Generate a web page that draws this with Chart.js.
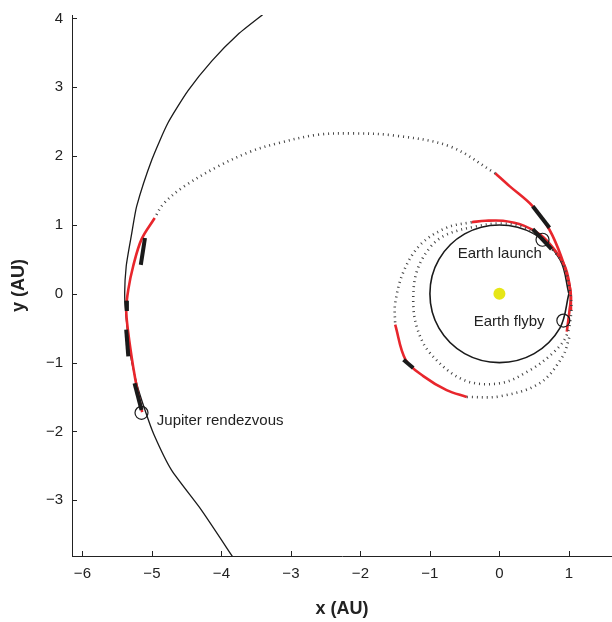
<!DOCTYPE html>
<html>
<head>
<meta charset="utf-8">
<script src="https://cdn.jsdelivr.net/npm/chart.js@4.4.0/dist/chart.umd.min.js"></script>
<style>
    html, body { margin: 0; padding: 0; background: #fff; overflow: hidden; }
    #wrap { width: 612px; height: 622px; position: relative; }
    canvas { display: block; }
</style>
</head>
<body>
<div id="wrap"><canvas id="orbitChart"></canvas></div>
<script>
// Axis ticks
const X_TICKS = [-6, -5, -4, -3, -2, -1, 0, 1];
const Y_TICKS = [-3, -2, -1, 0, 1, 2, 3, 4];

// Planet orbits (AU)
const EARTH_ORBIT = [
    [1, 0], [0.87, 0.5], [0.5, 0.87], [0, 1], [-0.5, 0.87], [-0.87, 0.5], [-1, 0],
    [-0.87, -0.5], [-0.5, -0.87], [0, -1], [0.5, -0.87], [0.87, -0.5], [1, 0]
];
const JUPITER_ORBIT = [
    [-3.30, 4.14], [-3.40, 4.06], [-3.76, 3.77], [-4.14, 3.38], [-4.48, 2.95], [-4.77, 2.48],
    [-5.00, 1.95], [-5.22, 1.27], [-5.29, 0.88], [-5.37, 0.40], [-5.39, -0.09], [-5.32, -0.82],
    [-5.22, -1.30], [-5.10, -1.69], [-4.97, -2.05], [-4.72, -2.56], [-4.29, -3.14], [-3.80, -3.88]
];

// Coast arcs (dotted)
const COAST_INNER = [
    [0.62, 0.79], [0.35, 0.97], [0.0, 1.02], [-0.33, 0.98], [-0.76, 0.86], [-1.0, 0.67],
    [-1.19, 0.32], [-1.24, -0.09], [-1.19, -0.48], [-1.0, -0.86], [-0.52, -1.25], [0.01, -1.30],
    [0.44, -1.11], [0.77, -0.86], [0.96, -0.62], [1.03, -0.30], [1.02, 0.0], [0.93, 0.40],
    [0.75, 0.66], [0.48, 0.93]
];
const COAST_LEFT = [
    [-0.40, 1.04], [-0.76, 0.96], [-1.14, 0.71], [-1.38, 0.32], [-1.50, -0.14], [-1.50, -0.45]
];
const COAST_BOTTOM = [
    [-0.47, -1.50], [0.01, -1.49], [0.58, -1.30], [0.91, -0.91], [1.01, -0.62]
];
const COAST_OUTER = [
    [-0.06, 1.75], [-0.71, 2.14], [-1.52, 2.30], [-2.14, 2.33], [-2.62, 2.31], [-3.18, 2.19],
    [-3.57, 2.07], [-4.05, 1.85], [-4.55, 1.55], [-4.84, 1.30], [-4.96, 1.10]
];

// Thrust arcs (red)
const THRUST_LAUNCH = [
    [1.03, -0.25], [1.02, 0.05], [0.95, 0.38], [0.80, 0.63], [0.60, 0.85], [0.35, 0.99],
    [0.05, 1.06], [-0.20, 1.06], [-0.40, 1.04]
];
const THRUST_LOOP = [
    [-1.50, -0.45], [-1.35, -0.96], [-1.09, -1.20], [-0.76, -1.40], [-0.47, -1.50]
];
const THRUST_FLYBY = [
    [0.97, -0.55], [1.01, -0.23], [1.03, -0.04], [0.99, 0.20], [0.89, 0.54], [0.72, 0.93],
    [0.48, 1.27], [0.15, 1.56], [-0.06, 1.75]
];
const THRUST_JUPITER = [
    [-4.96, 1.10], [-5.15, 0.79], [-5.27, 0.40], [-5.34, 0.06], [-5.37, -0.23], [-5.34, -0.57],
    [-5.27, -1.06], [-5.20, -1.45], [-5.14, -1.72]
];

// Thrust direction vectors (short black strokes)
const THRUST_VECTORS = [
    [[0.48, 1.27], [0.72, 0.96]],
    [[0.48, 0.94], [0.75, 0.65]],
    [[-1.38, -0.96], [-1.24, -1.08]],
    [[-5.10, 0.81], [-5.16, 0.42]],
    [[-5.37, -0.10], [-5.36, -0.25]],
    [[-5.37, -0.52], [-5.34, -0.91]],
    [[-5.25, -1.30], [-5.15, -1.69]]
];

// Events
const EVENT_NAMES = ['Earth launch', 'Earth flyby', 'Jupiter rendezvous'];
const EVENT_POINTS = [[0.62, 0.785], [0.92, -0.39], [-5.15, -1.73]];
const LABEL_X = [-0.60, -0.37, -4.93];
const LABEL_Y = [0.58, -0.41, -1.85];
const SUN = [[0, 0]];

const RED = '#e8262c';
const INK = '#1a1a1a';
const FONT = "'Liberation Sans', Arial, Helvetica, sans-serif";

Chart.defaults.font.family = FONT;

const pts = arr => arr.map(p => ({ x: p[0], y: p[1] }));
const fmt = v => (v < 0 ? '\u2212' + Math.abs(v) : String(v));

function lineSet(data, color, width, extra) {
    return Object.assign({
        data: pts(data),
        showLine: true,
        borderColor: color,
        borderWidth: width,
        pointRadius: 0,
        tension: 0.35,
        fill: false
    }, extra || {});
}

const datasets = [];

// Drawn on top first
datasets.push({
    data: pts(EVENT_POINTS),
    pointRadius: 6.5,
    pointBorderWidth: 1.2,
    pointBorderColor: INK,
    pointBackgroundColor: 'rgba(0,0,0,0)',
    showLine: false
});
datasets.push({
    data: pts(SUN),
    pointRadius: 6,
    pointBorderWidth: 0,
    pointBackgroundColor: '#e6e617',
    showLine: false
});
THRUST_VECTORS.forEach(v => datasets.push(lineSet(v, INK, 4, { tension: 0, borderCapStyle: 'butt' })));
[COAST_INNER, COAST_LEFT, COAST_BOTTOM, COAST_OUTER].forEach(c =>
    datasets.push(lineSet(c, '#444', 2.6, { borderDash: [1, 4], borderCapStyle: 'butt' })));
[THRUST_LAUNCH, THRUST_LOOP, THRUST_FLYBY, THRUST_JUPITER].forEach(t =>
    datasets.push(lineSet(t, RED, 2.6)));
datasets.push(lineSet(EARTH_ORBIT, INK, 1.6));
datasets.push(lineSet(JUPITER_ORBIT, INK, 1.3, { tension: 0.2 }));

// Inward tick marks
const innerTicks = {
    id: 'innerTicks',
    afterDraw(chart) {
        const { ctx, chartArea, scales } = chart;
        ctx.save();
        ctx.strokeStyle = '#222';
        ctx.lineWidth = 1;
        ctx.beginPath();
        X_TICKS.forEach(v => {
            const px = Math.round(scales.x.getPixelForValue(v)) + 0.5;
            ctx.moveTo(px, chartArea.bottom);
            ctx.lineTo(px, chartArea.bottom - 5);
        });
        Y_TICKS.forEach(v => {
            const py = Math.round(scales.y.getPixelForValue(v)) + 0.5;
            ctx.moveTo(chartArea.left, py);
            ctx.lineTo(chartArea.left + 5, py);
        });
        ctx.stroke();
        ctx.restore();
    }
};

// Event annotations
const eventLabels = {
    id: 'eventLabels',
    afterDatasetsDraw(chart) {
        const { ctx, scales } = chart;
        ctx.save();
        ctx.fillStyle = '#222';
        ctx.font = '15px ' + FONT;
        ctx.textAlign = 'left';
        ctx.textBaseline = 'middle';
        EVENT_NAMES.forEach((name, i) => {
            ctx.fillText(name, scales.x.getPixelForValue(LABEL_X[i]), scales.y.getPixelForValue(LABEL_Y[i]));
        });
        ctx.restore();
    }
};

new Chart(document.getElementById('orbitChart'), {
    type: 'scatter',
    data: { datasets: datasets },
    options: {
        responsive: true,
        maintainAspectRatio: false,
        animation: false,
        layout: { autoPadding: false, padding: { top: 15, right: 0, left: 0, bottom: 0 } },
        plugins: {
            legend: { display: false },
            tooltip: { enabled: false }
        },
        scales: {
            x: {
                type: 'linear',
                min: -6.15,
                max: 1.62,
                afterBuildTicks: s => { s.ticks = X_TICKS.map(v => ({ value: v })); },
                afterFit: s => { s.height = 66; s.paddingLeft = 0; s.paddingRight = 0; },
                grid: { display: false },
                border: { display: true, color: '#222', width: 1 },
                ticks: { color: '#222', font: { size: 15 }, padding: 1, maxRotation: 0, autoSkip: false, callback: fmt },
                title: { display: true, text: 'x (AU)', color: '#222', font: { size: 18, weight: 'bold' }, padding: { top: 0, bottom: 2 } }
            },
            y: {
                type: 'linear',
                min: -3.81,
                max: 4.05,
                afterBuildTicks: s => { s.ticks = Y_TICKS.map(v => ({ value: v })); },
                afterFit: s => { s.width = 72; s.paddingTop = 0; s.paddingBottom = 0; },
                grid: { display: false },
                border: { display: true, color: '#222', width: 1 },
                ticks: { color: '#222', font: { size: 15 }, padding: 1, autoSkip: false, callback: fmt },
                title: { display: true, text: 'y (AU)', color: '#222', font: { size: 18, weight: 'bold' }, padding: { top: 8, bottom: 0 } }
            }
        }
    },
    plugins: [innerTicks, eventLabels]
});
</script>
</body>
</html>
